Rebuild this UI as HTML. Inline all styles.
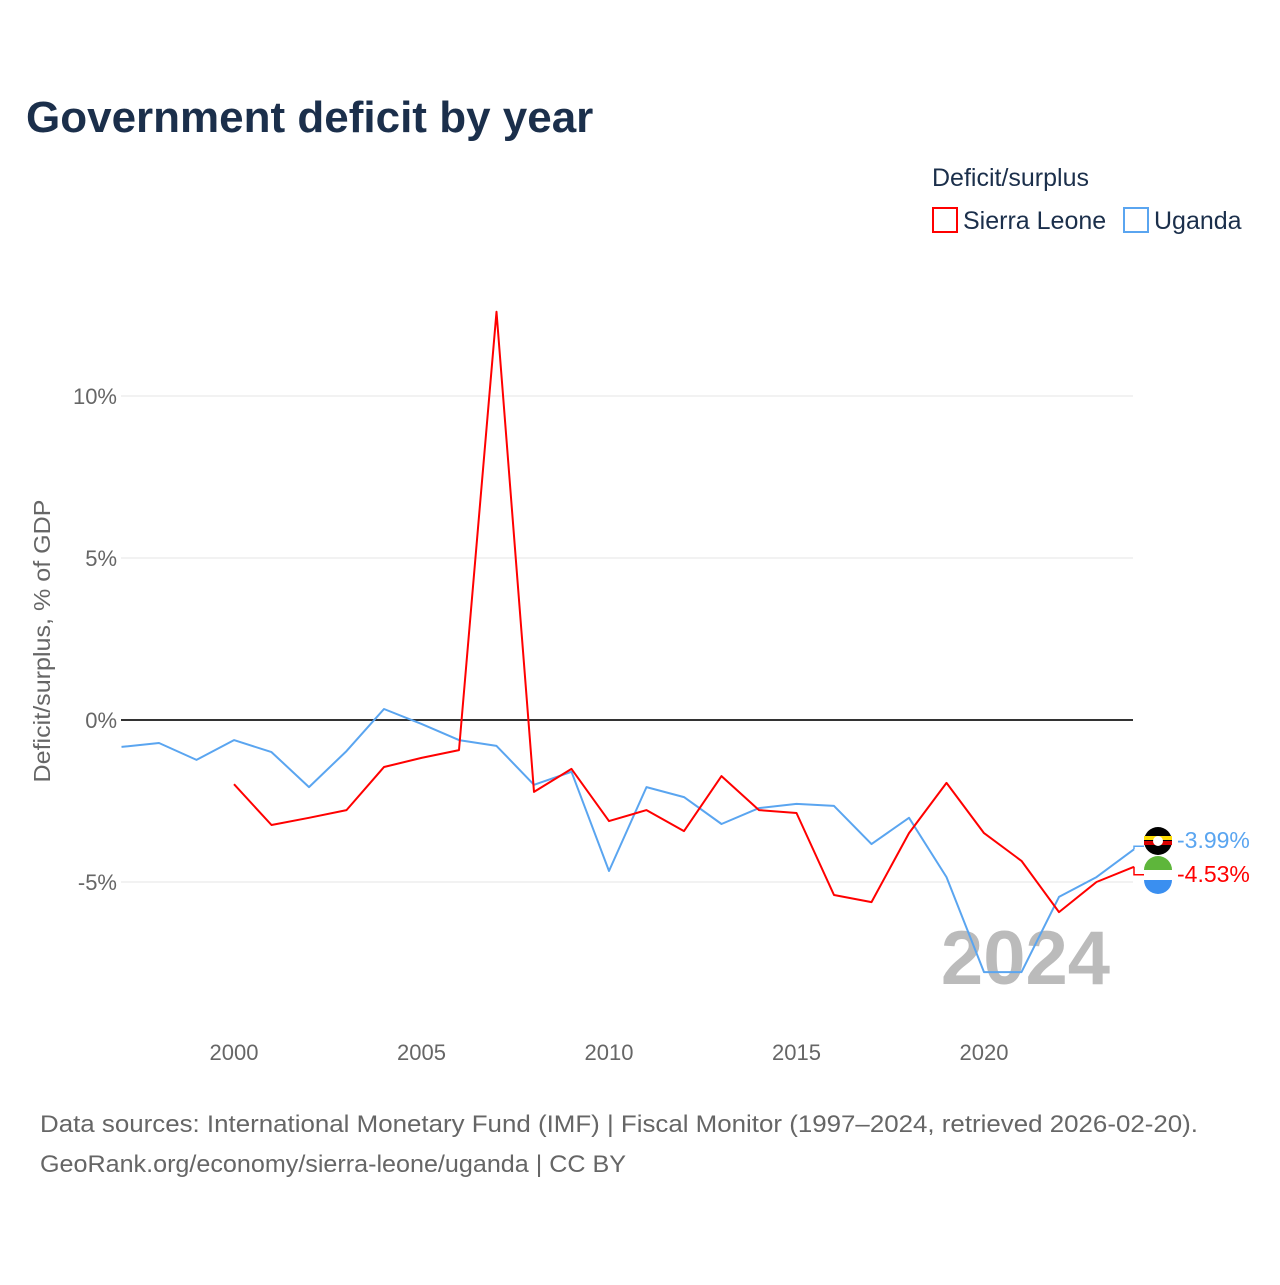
<!DOCTYPE html>
<html><head><meta charset="utf-8">
<style>
body{margin:0;background:#fff;font-family:"Liberation Sans",sans-serif;}
svg text{font-family:"Liberation Sans",sans-serif;}
</style></head>
<body>
<svg id="chart" width="1280" height="1280">
<text x="26" y="132" font-size="44" font-weight="bold" fill="#1b2f4b">Government deficit by year</text>
<text x="932" y="186" font-size="25" fill="#1b2f4b">Deficit/surplus</text>
<g><rect x="933" y="208" width="24" height="24" fill="none" stroke="#ff0000" stroke-width="2"/><text x="963" y="229" font-size="25" fill="#1b2f4b">Sierra Leone</text></g>
<g><rect x="1124" y="208" width="24" height="24" fill="none" stroke="#5aa5f0" stroke-width="2"/><text x="1154" y="229" font-size="25" fill="#1b2f4b">Uganda</text></g>
<text transform="translate(50,641) rotate(-90)" text-anchor="middle" font-size="23" fill="#666" textLength="283" lengthAdjust="spacingAndGlyphs">Deficit/surplus, % of GDP</text>
<g id="grid"></g>
<text x="1110" y="984" text-anchor="end" font-size="76" font-weight="bold" fill="#bbb">2024</text>
<g id="series"></g>
<text x="40" y="1132" font-size="24" fill="#666" textLength="1158" lengthAdjust="spacingAndGlyphs">Data sources: International Monetary Fund (IMF) | Fiscal Monitor (1997–2024, retrieved 2026-02-20).</text>
<text x="40" y="1172" font-size="24" fill="#666" textLength="586" lengthAdjust="spacingAndGlyphs">GeoRank.org/economy/sierra-leone/uganda | CC BY</text>
</svg>
<script>
const years = [1997,1998,1999,2000,2001,2002,2003,2004,2005,2006,2007,2008,2009,2010,2011,2012,2013,2014,2015,2016,2017,2018,2019,2020,2021,2022,2023,2024];
const uganda = [-0.83,-0.71,-1.23,-0.62,-0.99,-2.07,-0.96,0.34,-0.12,-0.62,-0.80,-2.0,-1.6,-4.66,-2.07,-2.38,-3.21,-2.72,-2.59,-2.65,-3.83,-3.02,-4.85,-7.78,-7.78,-5.46,-4.85,-3.99];
const sierraLeone = [null,null,null,-1.98,-3.24,-3.02,-2.78,-1.45,-1.17,-0.93,12.6,-2.22,-1.51,-3.12,-2.78,-3.43,-1.73,-2.78,-2.87,-5.4,-5.62,-3.49,-1.94,-3.49,-4.35,-5.93,-5.0,-4.53];
const yTicks = [10,5,0,-5];
const xTicks = [2000,2005,2010,2015,2020];
const NS="http://www.w3.org/2000/svg";
const x = y => 121.5 + (y-1997)*37.5;
const yv = v => 720 - v*32.4;
const grid=document.getElementById('grid'), ser=document.getElementById('series');
function mk(tag,attrs,parent){const e=document.createElementNS(NS,tag);for(const k in attrs)e.setAttribute(k,attrs[k]);parent.appendChild(e);return e;}
yTicks.forEach(t=>{
  const l=mk('line',{x1:121,x2:1133,y1:yv(t),y2:yv(t),stroke:t===0?'#333':'#e6e6e6','stroke-width':t===0?2:1},grid);
  
  
  const tx=mk('text',{x:117,y:yv(t)+8,'text-anchor':'end','font-size':22,fill:'#666'},grid);
  tx.textContent=t+'%';
  
  
});
xTicks.forEach(t=>{
  const tx=mk('text',{x:x(t),y:1060,'text-anchor':'middle','font-size':22,fill:'#666'},grid);
  tx.textContent=t;
  
  
});
function line(vals,color,name){
  const pts=[];vals.forEach((v,i)=>{if(v!==null)pts.push(x(years[i]).toFixed(1)+','+yv(v).toFixed(1));});
  const p=mk('polyline',{points:pts.join(' '),fill:'none',stroke:color,'stroke-width':2,'stroke-linejoin':'round'},ser);
  
  
}
line(uganda,'#5aa5f0','uganda-line');
line(sierraLeone,'#ff0000','sierra-leone-line');
const lu=uganda[uganda.length-1], ls=sierraLeone[sierraLeone.length-1];
const ex=x(2024);
const ug=mk('g',{},ser);


mk('polyline',{points:`${ex},${yv(lu)} ${ex},${yv(lu)-3} ${ex+10},${yv(lu)-3}`,fill:'none',stroke:'#5aa5f0','stroke-width':1.5},ug);
mk('circle',{cx:1158,cy:841,r:14,fill:'#000'},ug);
mk('rect',{x:1144,y:836,width:28,height:4,fill:'#fcdc04'},ug);
mk('rect',{x:1144,y:841,width:28,height:4,fill:'#d90000'},ug);
mk('circle',{cx:1158,cy:841,r:5,fill:'#fff'},ug);
const ut=mk('text',{x:1177,y:848,'font-size':23,fill:'#5aa5f0'},ug);ut.textContent=lu.toFixed(2)+'%';
const sl=mk('g',{},ser);


mk('polyline',{points:`${ex},${yv(ls)} ${ex},${yv(ls)+8} ${ex+10},${yv(ls)+8}`,fill:'none',stroke:'#ff0000','stroke-width':1.5},sl);
mk('circle',{cx:1158,cy:875,r:14,fill:'#fff'},sl);
mk('path',{d:'M1144,870 A14,14 0 0 1 1172,870 Z',fill:'#5eb63b'},sl);
mk('path',{d:'M1144,880 A14,14 0 0 0 1172,880 Z',fill:'#3a8ff0'},sl);
const st=mk('text',{x:1177,y:882,'font-size':23,fill:'#ff0000'},sl);st.textContent=ls.toFixed(2)+'%';
</script>
</body></html>
